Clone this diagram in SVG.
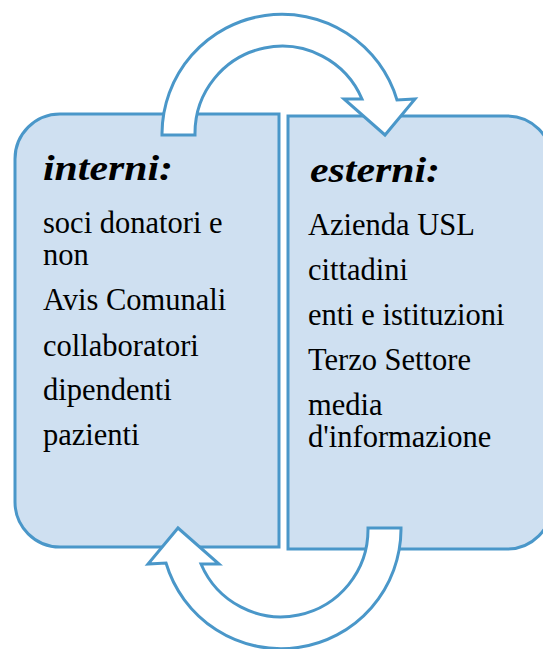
<svg xmlns="http://www.w3.org/2000/svg" width="543" height="649" viewBox="0 0 543 649">
<style>
.box{fill:#cfe0f1;stroke:#4a97c9;stroke-width:3}
.arr{fill:#ffffff;stroke:#4a97c9;stroke-width:3;stroke-linejoin:miter}
.h{font-family:"Liberation Serif",serif;font-weight:bold;font-style:italic;font-size:35px;fill:#000}
.t{font-family:"Liberation Serif",serif;font-size:30.5px;fill:#000}
</style>
<rect width="543" height="649" fill="#ffffff"/>
<g id="interni">
<path class="box" d="M60,114 L279,114 L279,547 L60,547 A45,45 0 0 1 15,502 L15,159 A45,45 0 0 1 60,114 Z"/>
<text class="h" x="43" y="180" textLength="130" lengthAdjust="spacingAndGlyphs">interni:</text>
<text class="t" x="43" y="233">soci donatori e</text>
<text class="t" x="43" y="265">non</text>
<text class="t" x="43" y="310">Avis Comunali</text>
<text class="t" x="43" y="356">collaboratori</text>
<text class="t" x="43" y="400">dipendenti</text>
<text class="t" x="43" y="445">pazienti</text>
</g>
<g id="esterni">
<path class="box" d="M288,116 L507,116 A45,45 0 0 1 552,161 L552,504 A45,45 0 0 1 507,549 L288,549 Z"/>
<text class="h" x="310" y="182" textLength="130" lengthAdjust="spacingAndGlyphs">esterni:</text>
<text class="t" x="308" y="235">Azienda USL</text>
<text class="t" x="308" y="280">cittadini</text>
<text class="t" x="308" y="325">enti e istituzioni</text>
<text class="t" x="308" y="370">Terzo Settore</text>
<text class="t" x="308" y="415">media</text>
<text class="t" x="308" y="447">d'informazione</text>
</g>
<g id="connectors">
<path id="arrow-top" class="arr" d="M162,135 L162,133.5 A120,120 0 0 1 397,100 L415,99 L385,135 L344,99 L362,99 A87,87 0 0 0 195,133.5 L195,135 Z"/>
<path id="arrow-bottom" class="arr" transform="rotate(180 281.5 331.5)" d="M162,135 L162,133.5 A120,120 0 0 1 397,100 L415,99 L385,135 L344,99 L362,99 A87,87 0 0 0 195,133.5 L195,135 Z"/>
</g>
</svg>
